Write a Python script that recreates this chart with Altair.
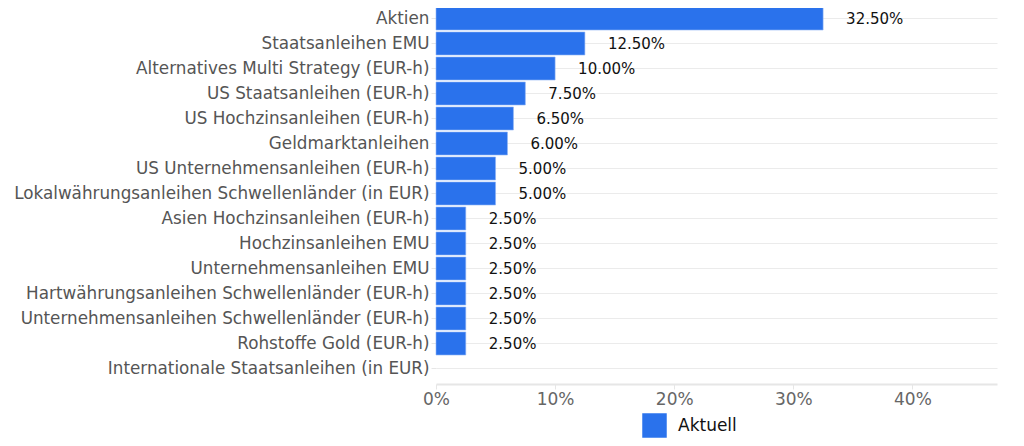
import altair as alt
import pandas as pd

categories = [
    "Aktien",
    "Staatsanleihen EMU",
    "Alternatives Multi Strategy (EUR-h)",
    "US Staatsanleihen (EUR-h)",
    "US Hochzinsanleihen (EUR-h)",
    "Geldmarktanleihen",
    "US Unternehmensanleihen (EUR-h)",
    "Lokalwährungsanleihen Schwellenländer (in EUR)",
    "Asien Hochzinsanleihen (EUR-h)",
    "Hochzinsanleihen EMU",
    "Unternehmensanleihen EMU",
    "Hartwährungsanleihen Schwellenländer (EUR-h)",
    "Unternehmensanleihen Schwellenländer (EUR-h)",
    "Rohstoffe Gold (EUR-h)",
    "Internationale Staatsanleihen (in EUR)",
]
values = [32.5, 12.5, 10.0, 7.5, 6.5, 6.0, 5.0, 5.0, 2.5, 2.5, 2.5, 2.5, 2.5, 2.5, 0.0]
series_name = "Aktuell"

df = pd.DataFrame({"cat": categories, "val": values, "series": series_name})
df["label"] = [f"{v:.2f}%" if v > 0 else "" for v in values]

FONT = "DejaVu Sans"

y_enc = alt.Y(
    "cat:N",
    sort=None,
    title=None,
    scale=alt.Scale(domain=categories, paddingInner=0.08, paddingOuter=0.04),
    axis=alt.Axis(
        labelFont=FONT, labelFontSize=16.8, labelColor="#555555", labelPadding=2,
        ticks=True, tickSize=5, tickColor="#e6e6e6", domain=False,
        grid=True, gridColor="#ebebeb", labelLimit=700,
    ),
)

bars = alt.Chart(df).transform_filter("datum.val > 0").mark_bar(
    stroke="#8fb4f5", strokeWidth=1, strokeOpacity=0.6
).encode(
    y=y_enc,
    x=alt.X(
        "val:Q",
        title=None,
        scale=alt.Scale(domain=[0, 47.1], nice=False, zero=True),
        axis=alt.Axis(
            values=[0, 10, 20, 30, 40],
            labelExpr="datum.value + '%'",
            labelFont=FONT, labelFontSize=17, labelColor="#666666",
            labelFlush=False,
            grid=False, domain=True, domainColor="#e6e6e6", domainWidth=2,
            ticks=True, tickColor="#e6e6e6", tickSize=5, labelPadding=2,
            offset=3,
        ),
    ),
    color=alt.Color(
        "series:N",
        scale=alt.Scale(domain=[series_name], range=["#2a72ec"]),
        legend=alt.Legend(
            title=None, orient="none", legendX=206, legendY=407,
            symbolType="square", symbolSize=600, symbolStrokeWidth=0,
            labelOffset=11,
            labelFont=FONT, labelFontSize=17, labelColor="#111111",
        ),
    ),
)

text = alt.Chart(df).mark_text(
    align="left", baseline="middle", dx=23, font=FONT, fontSize=15, color="#111111"
).encode(
    y=alt.Y("cat:N", sort=None),
    x="val:Q",
    text="label:N",
)

chart = (
    alt.layer(bars, text)
    .properties(width=561, height=375, padding={"left": 5, "top": -2, "right": 5, "bottom": 5})
    .configure_view(stroke=None)
)

chart.save("out.html", embed_options={"renderer": "svg", "actions": False})
